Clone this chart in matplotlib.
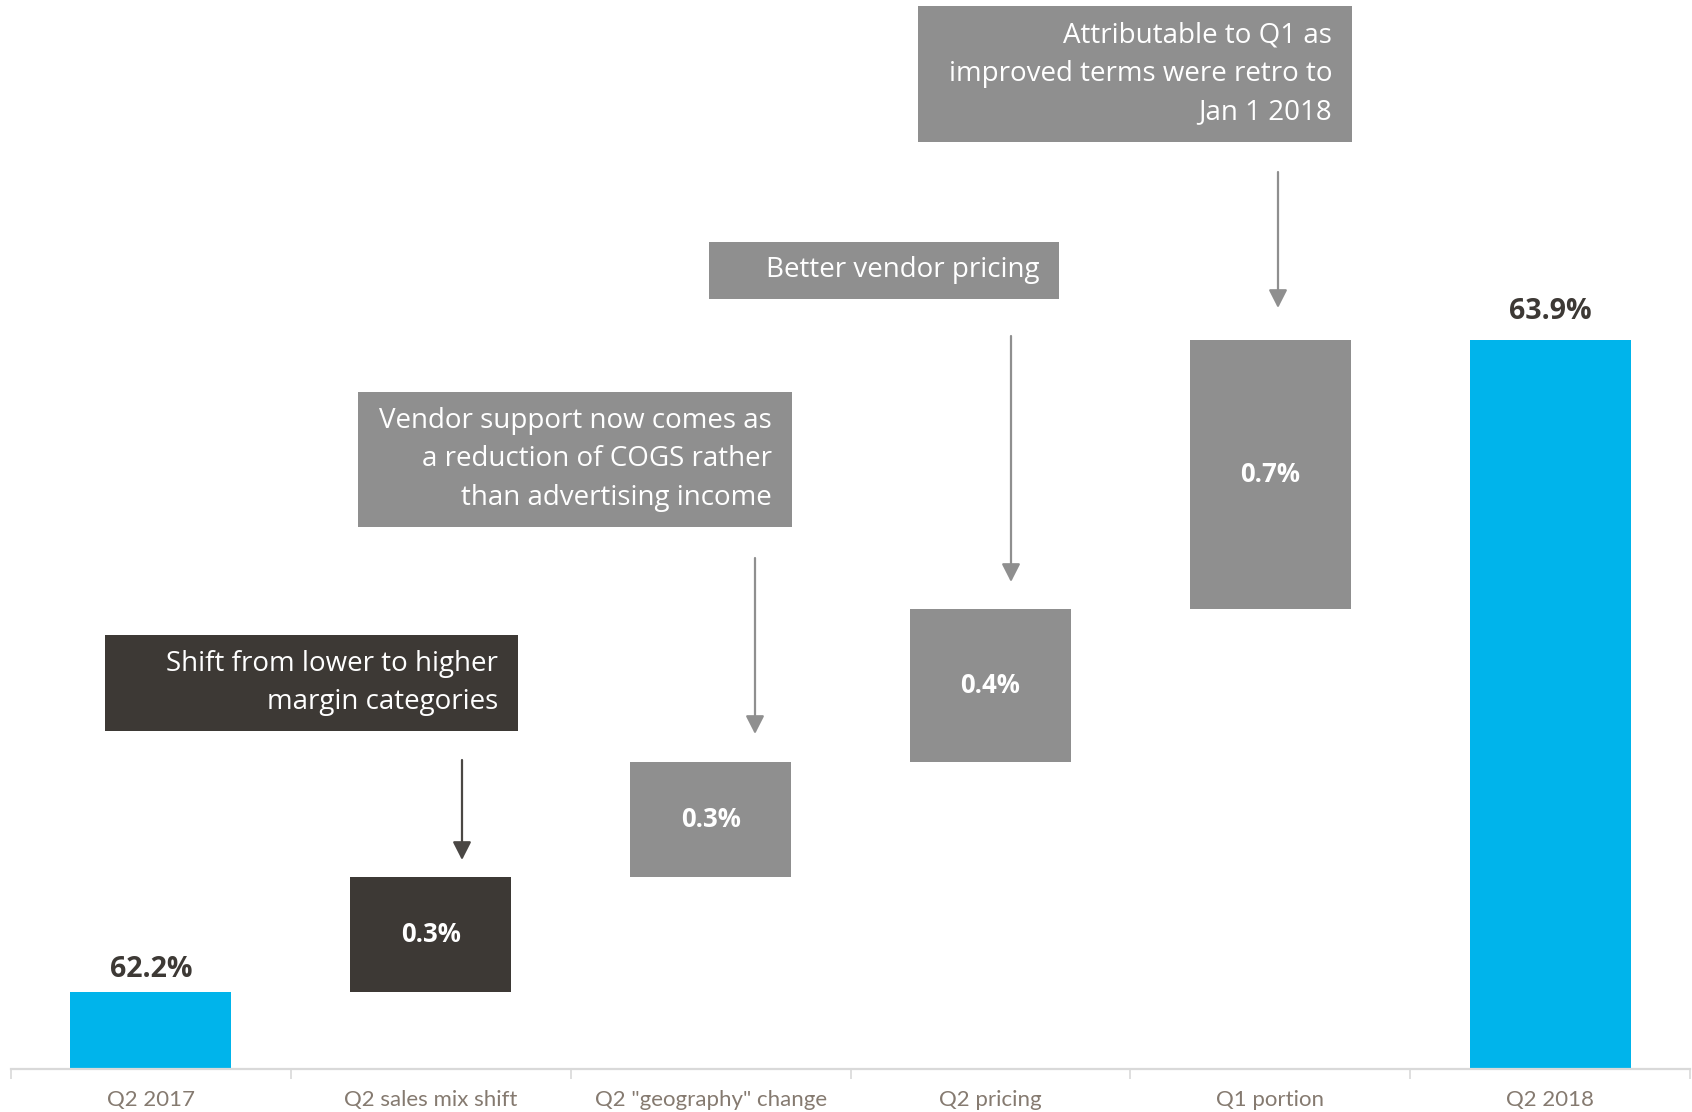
import matplotlib
matplotlib.use("Agg")
import matplotlib.pyplot as plt
from matplotlib.patches import Rectangle, FancyArrowPatch

# ---- data -------------------------------------------------------------
categories = ["Q2 2017", "Q2 sales mix shift", 'Q2 "geography" change',
              "Q2 pricing", "Q1 portion", "Q2 2018"]
start_margin = 62.2          # gross margin, Q2 2017 (%)
step_changes = [0.3, 0.3, 0.4, 0.7]   # contributions (pp)
end_margin = 63.9            # gross margin, Q2 2018 (%)
axis_floor = 62.0

step_colors = ["#3D3935", "#8F8F8F", "#8F8F8F", "#8F8F8F"]
total_color = "#00B4EB"
label_dark = "#3D3935"
tick_color = "#857A70"

callouts = [
    "Shift from lower to higher\nmargin categories",
    "Vendor support now comes as\na reduction of COGS rather\nthan advertising income",
    "Better vendor pricing",
    "Attributable to Q1 as\nimproved terms were retro to\nJan 1 2018",
]

# ---- figure -----------------------------------------------------------
W, H = 1692, 1112
fig = plt.figure(figsize=(W / 100, H / 100), dpi=100)
fig.patch.set_facecolor("white")

ax_left, ax_right, ax_bottom = 11, 1690, 1069      # pixel layout
ax = fig.add_axes([ax_left / W, 1 - ax_bottom / H,
                   (ax_right - ax_left) / W, ax_bottom / H])
ax.set_xlim(-0.5, len(categories) - 0.5)
px_per_pt = 383.7
ax.set_ylim(axis_floor, axis_floor + ax_bottom / px_per_pt)

bar_w = 0.575
ann_font = "Open Sans"

# totals
ax.bar(0, start_margin - axis_floor, bottom=axis_floor, width=bar_w,
       color=total_color, zorder=2)
ax.bar(len(categories) - 1, end_margin - axis_floor, bottom=axis_floor,
       width=bar_w, color=total_color, zorder=2)
for x, v, off in [(0, start_margin, 6), (len(categories) - 1, end_margin, 10)]:
    ax.annotate(f"{v:.1f}%", (x, v), xytext=(0, off), textcoords="offset points",
                ha="center", va="bottom", fontsize=20.5, fontweight="bold",
                color=label_dark, family=ann_font)

# floating steps
level = start_margin
for i, (d, c) in enumerate(zip(step_changes, step_colors), start=1):
    ax.bar(i, d, bottom=level, width=bar_w, color=c, zorder=2)
    ax.text(i, level + d / 2, f"{d:.1f}%", ha="center", va="center",
            fontsize=18.5, fontweight="bold", color="white", family=ann_font)
    level += d

# axis styling
for s in ["top", "right", "left"]:
    ax.spines[s].set_visible(False)
ax.spines["bottom"].set_color("#D9D9D9")
ax.spines["bottom"].set_linewidth(1.6)
ax.set_yticks([])
ax.set_xticks([i - 0.5 for i in range(len(categories) + 1)])
ax.set_xticklabels([])
ax.tick_params(axis="x", length=7, width=1.2, color="#D9D9D9", direction="out")
ax.set_xticks(range(len(categories)), minor=True)
ax.set_xticklabels(categories, minor=True, fontsize=16, color=tick_color,
                   family="Lato")
ax.tick_params(axis="x", which="minor", length=0, pad=15)
ax.set_facecolor("white")

# ---- call-out boxes and arrows ---------------------------------------
def fx(x):
    return x / W

def fy(y):
    return 1 - y / H

# (left, top, right, bottom) in pixels, box colour, arrow x, arrow top, arrow tip
layout = [
    ((105, 635, 518, 731), "#3D3935", 462, 760, 860),
    ((358, 392, 792, 527), "#8F8F8F", 755, 558, 734),
    ((709, 242, 1059, 299), "#8F8F8F", 1011, 336, 582),
    ((918, 6, 1352, 142), "#8F8F8F", 1278, 172, 308),
]

for text, ((l, t, r, b), col, axx, ay0, ay1) in zip(callouts, layout):
    fig.patches.append(Rectangle((fx(l), fy(b)), fx(r) - fx(l), fy(t) - fy(b),
                                 transform=fig.transFigure, facecolor=col,
                                 edgecolor="none", zorder=3))
    fig.text(fx(r - 20), fy((t + b) / 2), text, ha="right", va="center",
             multialignment="right", fontsize=20, color="white",
             family=ann_font, linespacing=1.48, zorder=4)
    arrow_col = "#4A4744" if col == "#3D3935" else "#8F8F8F"
    fig.add_artist(FancyArrowPatch(
        (fx(axx), fy(ay0)), (fx(axx), fy(ay1)), transform=fig.transFigure,
        arrowstyle="-|>,head_length=0.55,head_width=0.28", mutation_scale=20,
        color=arrow_col, linewidth=1.6, shrinkA=0, shrinkB=0, zorder=4))

fig.savefig("out.png", dpi=100, facecolor="white")
